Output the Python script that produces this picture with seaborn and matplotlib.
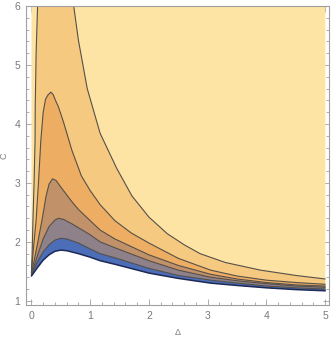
import numpy as np
import matplotlib
matplotlib.use("Agg")
import matplotlib.pyplot as plt
import seaborn as sns
from matplotlib.ticker import MultipleLocator

# contour curves (delta, C), innermost first
l0_d = [0.0, 0.05, 0.1, 0.2, 0.3, 0.4, 0.5, 0.6, 0.8, 1.0, 1.17, 1.42, 2.0, 2.5, 3.05, 3.5, 4.0, 4.5, 5.0]
l0_c = [1.42, 1.49, 1.56, 1.69, 1.78, 1.84, 1.86, 1.85, 1.80, 1.74, 1.68, 1.62, 1.47, 1.38, 1.30, 1.26, 1.22, 1.19, 1.17]

l1_d = [0.0, 0.05, 0.1, 0.2, 0.3, 0.4, 0.5, 0.6, 0.8, 1.0, 1.17, 1.42, 2.0, 2.5, 3.05, 3.5, 4.0, 4.5, 5.0]
l1_c = [1.44, 1.55, 1.66, 1.83, 1.95, 2.03, 2.06, 2.05, 1.98, 1.88, 1.80, 1.73, 1.55, 1.43, 1.35, 1.30, 1.25, 1.22, 1.20]

l2_d = [0.0, 0.05, 0.1, 0.2, 0.3, 0.4, 0.46, 0.55, 0.7, 1.0, 1.17, 1.42, 2.0, 2.5, 3.05, 3.5, 4.0, 4.5, 5.0]
l2_c = [1.45, 1.60, 1.76, 2.05, 2.26, 2.37, 2.40, 2.38, 2.30, 2.12, 2.00, 1.90, 1.68, 1.52, 1.40, 1.34, 1.29, 1.25, 1.23]

l3_d = [0.0, 0.05, 0.1, 0.18, 0.25, 0.3, 0.36, 0.42, 0.5, 0.69, 0.8, 1.0, 1.17, 1.42, 2.0, 2.5, 3.05, 3.5, 4.0, 4.5, 5.0]
l3_c = [1.46, 1.70, 1.95, 2.37, 2.78, 2.98, 3.07, 3.04, 2.93, 2.68, 2.55, 2.36, 2.20, 2.05, 1.78, 1.60, 1.45, 1.37, 1.31, 1.27, 1.25]

l4_d = [0.0, 0.03, 0.08, 0.12, 0.16, 0.2, 0.24, 0.28, 0.33, 0.37, 0.41, 0.46, 0.55, 0.69, 0.85, 1.0, 1.17, 1.42, 1.7, 2.0, 2.5, 3.05, 3.5, 4.0, 4.5, 5.0]
l4_c = [1.47, 1.85, 2.37, 3.0, 3.72, 4.2, 4.42, 4.49, 4.54, 4.5, 4.4, 4.29, 4.02, 3.55, 3.12, 2.87, 2.63, 2.36, 2.15, 1.98, 1.72, 1.52, 1.42, 1.35, 1.31, 1.28]

l5_d = [0.0, 0.012, 0.026, 0.045, 0.062, 0.065, 0.08, 0.105, 0.72, 0.8, 0.95, 1.17, 1.45, 1.71, 2.0, 2.31, 2.6, 2.87, 3.3, 3.9, 4.5, 5.0]
l5_c = [1.48, 1.8, 2.37, 3.0, 3.72, 4.3, 5.2, 6.0, 6.0, 5.42, 4.6, 3.84, 3.25, 2.78, 2.42, 2.14, 1.95, 1.80, 1.65, 1.52, 1.43, 1.37]

curves = [(l1_d, l1_c), (l2_d, l2_c), (l3_d, l3_c), (l4_d, l4_c), (l5_d, l5_c)]
band_colors = ["#4c6db8", "#8e8189", "#c1916a", "#edae63", "#f6c981"]
top_color = "#fde4a4"
line_color = "#55504a"
frame_color = "#a0a0a0"
text_color = "#7a7a7a"

sns.set_style("white")
plt.rcParams["font.family"] = ["Liberation Sans", "DejaVu Sans"]

fig = plt.figure(figsize=(3.32, 3.39), dpi=100)
ax = fig.add_axes([0.078, 0.100, 0.914, 0.882])

# region above the lower boundary
ax.fill(l0_d + [5.0, 0.0], l0_c + [6.0, 6.0], color=top_color, lw=0)

# nested bands, outermost first
for (d, c), col in reversed(list(zip(curves, band_colors))):
    ax.fill(d + l0_d[::-1], c + l0_c[::-1], color=col, lw=0)

# contour lines
for d, c in curves[:-1]:
    sns.lineplot(x=d, y=c, sort=False, estimator=None, color=line_color, lw=0.8, ax=ax)
sns.lineplot(x=l5_d[:8], y=l5_c[:8], sort=False, estimator=None, color=line_color, lw=0.8, ax=ax)
sns.lineplot(x=l5_d[8:], y=l5_c[8:], sort=False, estimator=None, color=line_color, lw=0.8, ax=ax)
sns.lineplot(x=l0_d, y=l0_c, sort=False, estimator=None, color="#1d2a55", lw=1.1, ax=ax)

ax.set_xlim(-0.094, 5.07)
ax.set_ylim(0.927, 6.0)

ax.xaxis.set_major_locator(MultipleLocator(1))
ax.xaxis.set_minor_locator(MultipleLocator(0.2))
ax.yaxis.set_major_locator(MultipleLocator(1))
ax.yaxis.set_minor_locator(MultipleLocator(0.2))
ax.tick_params(which="both", direction="in", top=True, right=True, bottom=True, left=True,
               color=frame_color, labelcolor=text_color, labelsize=7.5, width=0.6)
ax.tick_params(which="major", length=4, pad=4)
ax.tick_params(which="minor", length=2.2)
for s in ax.spines.values():
    s.set_color(frame_color)
    s.set_linewidth(0.8)

ax.set_xlabel("Δ", color=text_color, fontsize=6.5, labelpad=5)
ax.set_ylabel("C", color=text_color, fontsize=6.5, labelpad=4)

fig.savefig("out.png", dpi=100)
